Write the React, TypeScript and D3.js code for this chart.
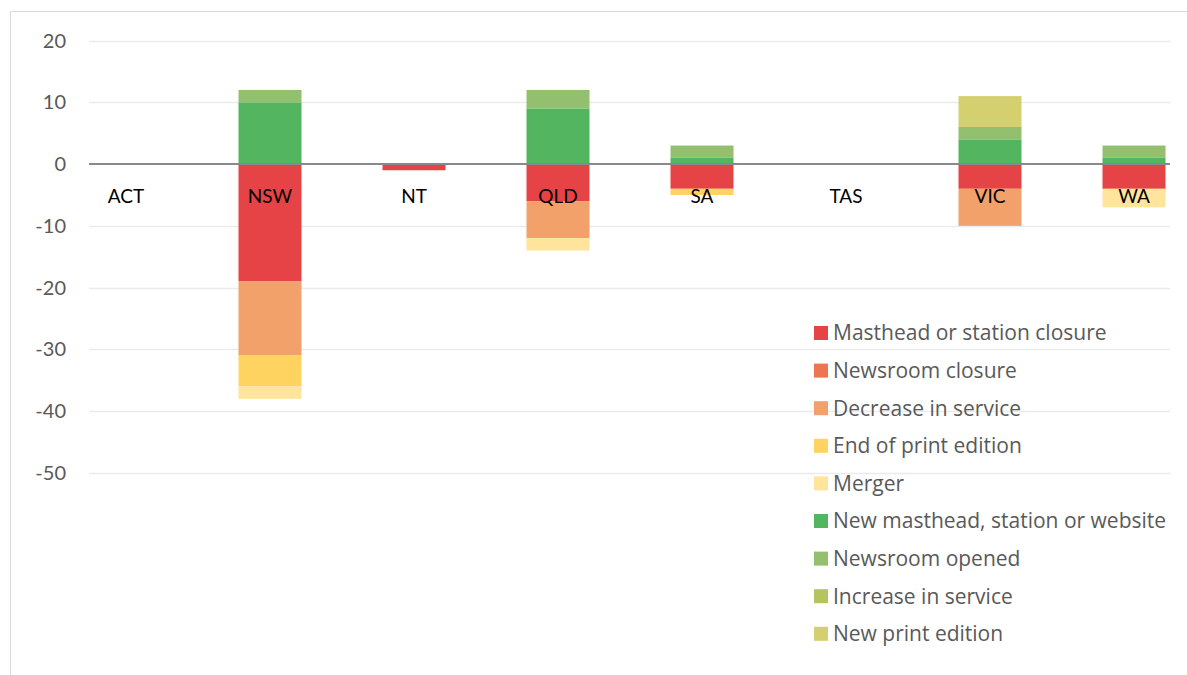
import React from "react";
import * as d3 from "d3";

const categories = ["ACT", "NSW", "NT", "QLD", "SA", "TAS", "VIC", "WA"];
const seriesNames = [
  "Masthead or station closure",
  "Newsroom closure",
  "Decrease in service",
  "End of print edition",
  "Merger",
  "New masthead, station or website",
  "Newsroom opened",
  "Increase in service",
  "New print edition",
];
const seriesColors = [
  "#E54345",
  "#ED7552",
  "#F2A16B",
  "#FFD35F",
  "#FFE49C",
  "#53B560",
  "#93C06E",
  "#B5C45E",
  "#D4CF6F",
];
// values per series, in category order
const mastheadClosure = [0, -19, -1, -6, -4, 0, -4, -4];
const newsroomClosure = [0, 0, 0, 0, 0, 0, 0, 0];
const decreaseInService = [0, -12, 0, -6, 0, 0, -6, 0];
const endOfPrint = [0, -5, 0, 0, -1, 0, 0, 0];
const merger = [0, -2, 0, -2, 0, 0, 0, -3];
const newMasthead = [0, 10, 0, 9, 1, 0, 4, 1];
const newsroomOpened = [0, 2, 0, 3, 2, 0, 2, 2];
const increaseInService = [0, 0, 0, 0, 0, 0, 0, 0];
const newPrintEdition = [0, 0, 0, 0, 0, 0, 5, 0];
const yTicks = [20, 10, 0, -10, -20, -30, -40, -50];

const seriesValues = [
  mastheadClosure,
  newsroomClosure,
  decreaseInService,
  endOfPrint,
  merger,
  newMasthead,
  newsroomOpened,
  increaseInService,
  newPrintEdition,
];

const W = 1187;
const H = 675;
const FONT = "Lato, 'Open Sans', sans-serif";
const LEGEND_FONT = "'Open Sans', Lato, sans-serif";

export default function App() {
  const rows = categories.map((c, i) => {
    const r: any = { cat: c };
    seriesNames.forEach((s, j) => (r[s] = seriesValues[j][i]));
    return r;
  });
  const stacked = d3
    .stack<any>()
    .keys(seriesNames)
    .offset(d3.stackOffsetDiverging)(rows);

  const x = d3
    .scaleBand()
    .domain(categories)
    .range([54, 1206])
    .paddingInner(0.5625)
    .paddingOuter(0.28125);
  const y = d3.scaleLinear().domain([-50, 20]).range([473, 40.5]);

  const gridX0 = 89;
  const gridX1 = 1170;

  return (
    <svg
      width={W}
      height={H}
      style={{ position: "absolute", left: 0, top: 0, background: "#fff" }}
    >
      <rect x={0} y={0} width={W} height={H} fill="#fff" />
      <line x1={10.5} y1={11.5} x2={W} y2={11.5} stroke="#D9D9D9" strokeWidth={1} />
      <line x1={10.5} y1={11.5} x2={10.5} y2={H} stroke="#D9D9D9" strokeWidth={1} />
      {yTicks.map((t) => (
        <g key={t}>
          {t !== 0 && (
            <line
              x1={gridX0}
              x2={gridX1}
              y1={Math.round(y(t)) + 0.5}
              y2={Math.round(y(t)) + 0.5}
              stroke="#EBEBEB"
              strokeWidth={1.5}
            />
          )}
          <text
            x={66}
            y={y(t)}
            dy="0.35em"
            textAnchor="end"
            fontFamily={FONT}
            fontSize={20}
            fill="#595959"
          >
            {t}
          </text>
        </g>
      ))}
      {stacked.map((s, j) => (
        <g key={s.key} fill={seriesColors[j]}>
          {s.map((d, i) => {
            const h = Math.abs(y(d[0]) - y(d[1]));
            if (h < 0.01) return null;
            return (
              <rect
                key={i}
                x={x(categories[i])!}
                y={Math.min(y(d[0]), y(d[1]))}
                width={x.bandwidth()}
                height={h}
              />
            );
          })}
        </g>
      ))}
      <line
        x1={gridX0}
        x2={gridX1}
        y1={y(0)}
        y2={y(0)}
        stroke="#898989"
        strokeWidth={2}
      />
      {categories.map((c) => (
        <text
          key={c}
          x={x(c)! + x.bandwidth() / 2}
          y={196}
          dy="0.35em"
          textAnchor="middle"
          fontFamily={FONT}
          fontSize={19}
          fill="#000"
        >
          {c}
        </text>
      ))}
      {seriesNames.map((s, j) => {
        const cy = 333 + j * 37.6;
        return (
          <g key={s}>
            <rect x={814} y={cy - 7} width={14} height={14} fill={seriesColors[j]} />
            <text
              x={833}
              y={cy}
              dy="0.35em"
              fontFamily={LEGEND_FONT}
              fontSize={21}
              fill="#595959"
            >
              {s}
            </text>
          </g>
        );
      })}
    </svg>
  );
}
